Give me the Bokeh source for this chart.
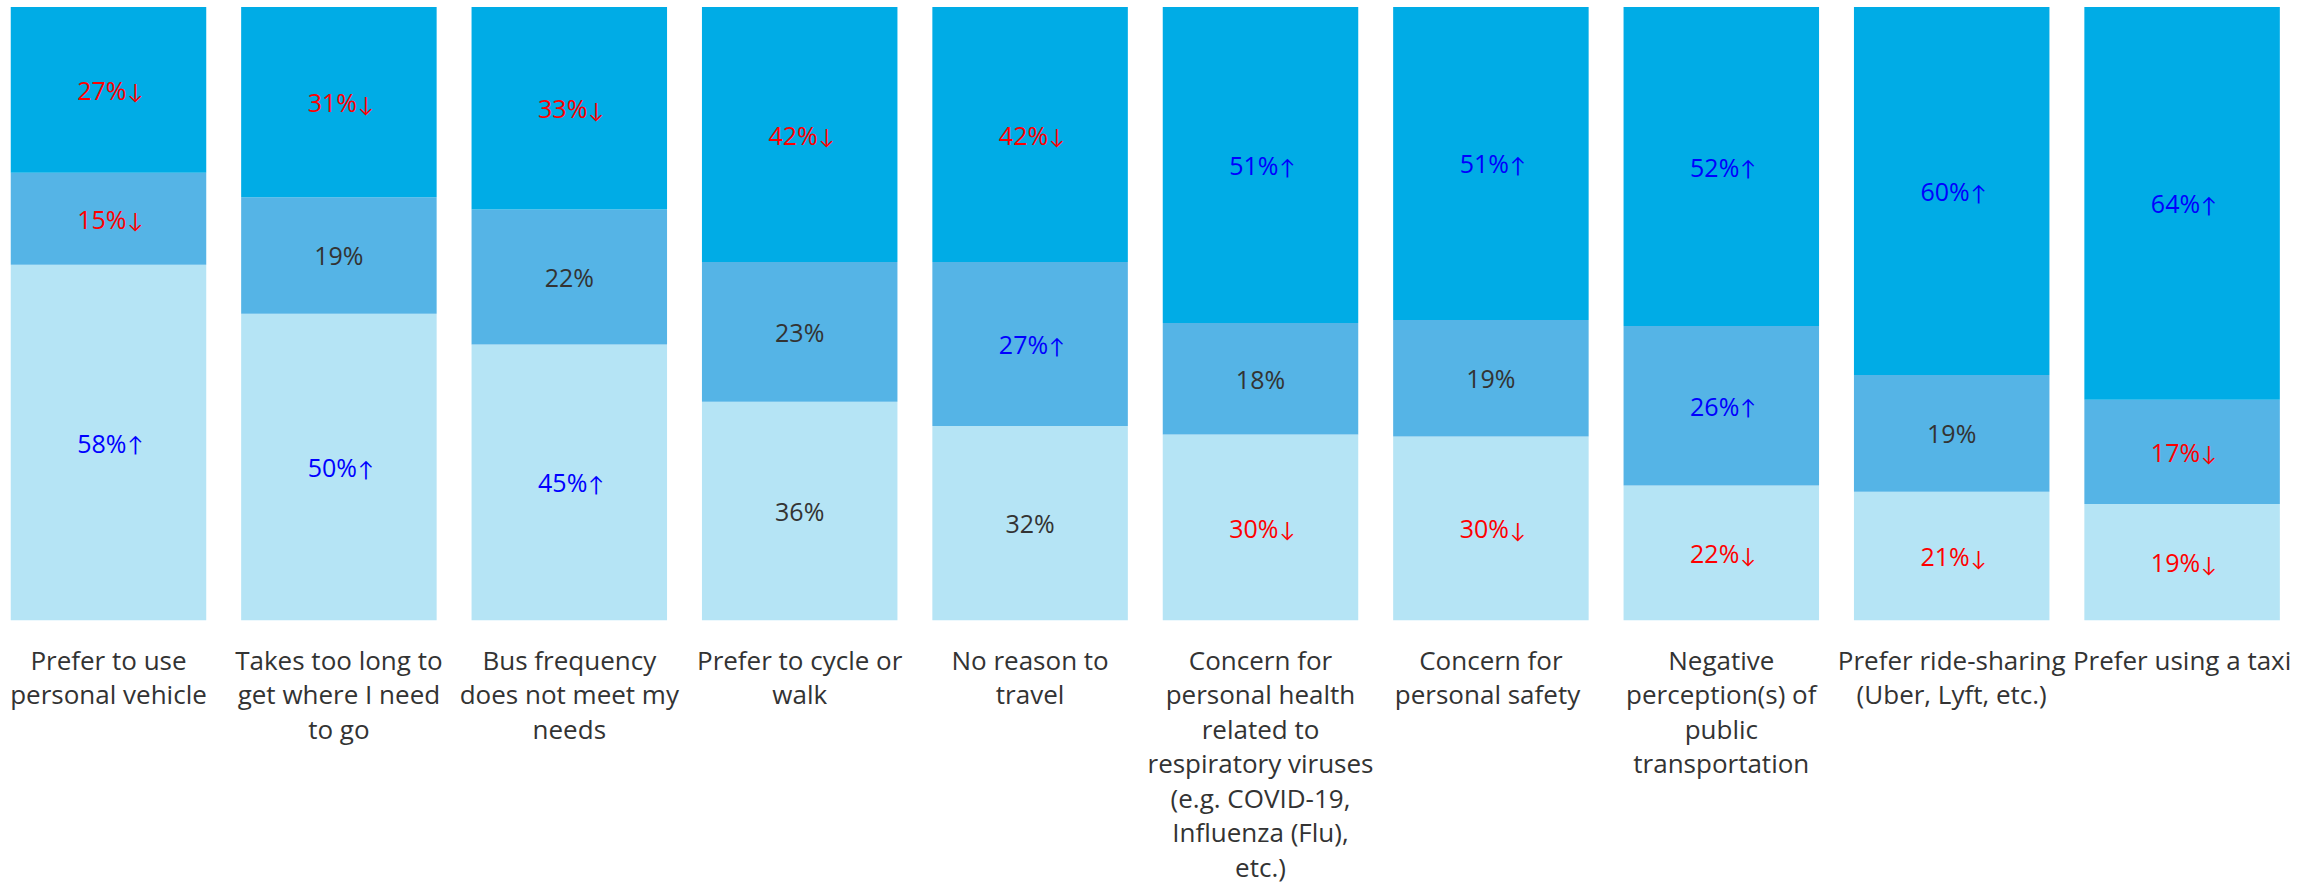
import numpy as np
from bokeh.plotting import figure
from bokeh.models import ColumnDataSource, Range1d, FixedTicker
from bokeh.core.properties import value
from bokeh.embed import file_html
from bokeh.resources import INLINE

categories = [
    "Prefer to use\npersonal vehicle",
    "Takes too long to\nget where I need\nto go",
    "Bus frequency\ndoes not meet my\nneeds",
    "Prefer to cycle or\nwalk",
    "No reason to\ntravel",
    "Concern for\npersonal health\nrelated to\nrespiratory viruses\n(e.g. COVID-19,\nInfluenza (Flu),\netc.)",
    "Concern for\npersonal  safety",
    "Negative\nperception(s) of\npublic\ntransportation",
    "Prefer ride-sharing\n(Uber, Lyft, etc.)",
    "Prefer using a taxi",
]
bottom_vals = [58, 50, 45, 36, 32, 30, 30, 22, 21, 19]
middle_vals = [15, 19, 22, 23, 27, 18, 19, 26, 19, 17]
top_vals = [27, 31, 33, 42, 42, 51, 51, 52, 60, 64]
bottom_trend = ["up", "up", "up", "", "", "down", "down", "down", "down", "down"]
middle_trend = ["down", "", "", "", "up", "", "", "up", "", "down"]
top_trend = ["down", "down", "down", "down", "down", "up", "up", "up", "up", "up"]

seg_colors = ["#B5E4F5", "#55B4E6", "#00ACE6"]
trend_color = {"up": "#0000FF", "down": "#FF0000", "": "#333333"}
trend_arrow = {"up": "\u2191", "down": "\u2193", "": ""}

n = len(categories)
xs = np.arange(n)
vals = np.array([bottom_vals, middle_vals, top_vals], dtype=float)
totals = vals.sum(axis=0)
shares = vals / totals * 100.0
tops = np.cumsum(shares, axis=0)
bottoms = tops - shares

PX_PER_UNIT = 230.4
W, H = 2313, 887
FRAME_H = 620
x_start = -108.0 / PX_PER_UNIT
x_end = x_start + W / PX_PER_UNIT
px_per_pct = (FRAME_H - 6.5) / 100.0
y_end = 100 + 6.5 / px_per_pct

p = figure(width=W, height=H, output_backend="svg", toolbar_location=None,
           x_range=Range1d(x_start, x_end), y_range=Range1d(0, y_end),
           y_axis_location=None, min_border_left=0, min_border_right=0,
           min_border_top=0, min_border_bottom=H - FRAME_H)
p.outline_line_color = None
p.xgrid.visible = False
p.ygrid.visible = False
p.background_fill_color = "white"
p.border_fill_color = "white"

trends = [bottom_trend, middle_trend, top_trend]
plain = dict(x=[], y=[], text=[], color=[])
numbered = dict(x=[], y=[], text=[], color=[])
arrows = dict(x=[], y=[], text=[], color=[])
for k in range(3):
    src = ColumnDataSource(dict(x=xs, bottom=bottoms[k], top=tops[k]))
    p.vbar(x="x", width=0.8485, bottom="bottom", top="top", source=src,
           fill_color=seg_colors[k], line_color=None)
    for i in range(n):
        t = trends[k][i]
        yc = (bottoms[k][i] + tops[k][i]) / 2
        target = numbered if t else plain
        target["x"].append(xs[i]); target["y"].append(yc)
        target["text"].append(f"{int(vals[k][i])}%")
        target["color"].append(trend_color[t])
        if t:
            arrows["x"].append(xs[i]); arrows["y"].append(yc)
            arrows["text"].append(trend_arrow[t])
            arrows["color"].append(trend_color[t])

common = dict(x="x", y="y", text="text", text_color="color", text_baseline="middle")
p.text(source=ColumnDataSource(plain), text_align="center",
       text_font=value("Open Sans"), text_font_size="25px", **common)
p.text(source=ColumnDataSource(numbered), text_align="right", x_offset=18,
       text_font=value("Open Sans"), text_font_size="25px", **common)
p.text(source=ColumnDataSource(arrows), text_align="left", x_offset=19, y_offset=1,
       text_font=value("Lato"), text_font_size="21px", **common)

ax = p.xaxis[0]
ax.ticker = FixedTicker(ticks=list(range(n)))
ax.major_label_overrides = {i: categories[i] for i in range(n)}
ax.axis_line_color = None
ax.major_tick_line_color = None
ax.minor_tick_line_color = None
ax.major_tick_in = 0
ax.major_tick_out = 0
ax.major_label_standoff = 21
ax.major_label_text_font = "Open Sans"
ax.major_label_text_font_size = "26px"
ax.major_label_text_color = "#333333"
ax.major_label_text_line_height = 0.96

open("out.html", "w").write(file_html(p, INLINE))
